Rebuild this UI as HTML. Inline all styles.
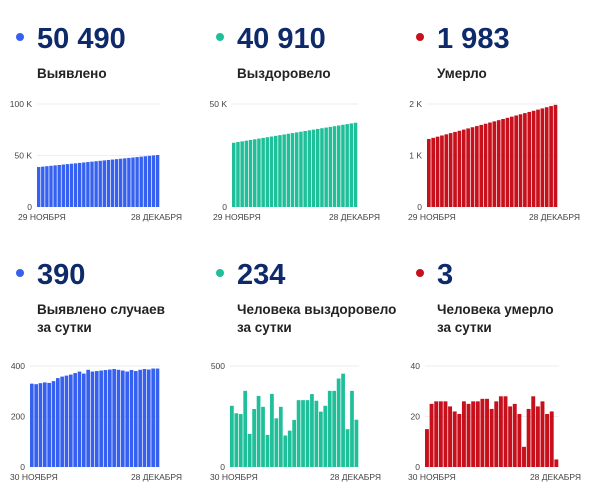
<!DOCTYPE html>
<html><head><meta charset="utf-8"><style>
body{margin:0;background:#fff;width:600px;height:503px;overflow:hidden}
svg{display:block}
</style></head><body>
<svg width="600" height="503" xmlns="http://www.w3.org/2000/svg" font-family="Liberation Sans, sans-serif">
<g id="g"></g>
</svg>
<script>
const NS="http://www.w3.org/2000/svg",g=document.getElementById('g');
function el(t,a,txt){const e=document.createElementNS(NS,t);for(const k in a)e.setAttribute(k,a[k]);if(txt!=null)e.textContent=txt;g.appendChild(e);return e;}
function header(x,y,col,num,lines){
 el('circle',{cx:x,cy:y,r:4,fill:col});
 el('text',{x:x+17,y:y+11,'font-size':29,'font-weight':'bold',fill:'#0e2a6b'},num);
 lines.forEach((l,i)=>el('text',{x:x+17,y:y+41+i*18,'font-size':13.5,'font-weight':'bold',fill:'#222'},l));
}
function chart(x0,x1,base,top,max,ticks,vals,col,l1,l2,lx){
 const h=base-top;
 ticks.forEach(t=>{const y=base-t[0]/max*h;
  if(t[0]>0)el('line',{x1:x0,x2:x1,y1:y,y2:y,stroke:'#eee','stroke-width':1});
  el('text',{x:x0-5,y:y+3,'font-size':8.5,fill:'#444','text-anchor':'end'},t[1]);});
 const w=(x1-x0)/vals.length;
 vals.forEach((v,i)=>{const bh=v/max*h;el('rect',{x:x0+i*w,y:base-bh,width:w-0.7,height:bh,fill:col});});
 el('text',{x:lx,y:base+13,'font-size':8.5,fill:'#444'},l1);
 el('text',{x:x1+22,y:base+13,'font-size':8.5,fill:'#444','text-anchor':'end'},l2);
}
function lin(a,b,n){return Array.from({length:n},(_,i)=>a+(b-a)*i/(n-1));}
header(20,37,'#3560f0','50 490',['Выявлено']);
header(220,37,'#1fbf9a','40 910',['Выздоровело']);
header(420,37,'#c8101c','1 983',['Умерло']);
header(20,273,'#3560f0','390',['Выявлено случаев','за сутки']);
header(220,273,'#1fbf9a','234',['Человека выздоровело','за сутки']);
header(420,273,'#c8101c','3',['Человека умерло','за сутки']);
chart(37,160,207,104,100000,[[0,'0'],[50000,'50 K'],[100000,'100 K']],lin(38800,50490,30),'#3560f0','29 НОЯБРЯ','28 ДЕКАБРЯ',18);
chart(232,358,207,104,50000,[[0,'0'],[50000,'50 K']],lin(31200,40910,30),'#1fbf9a','29 НОЯБРЯ','28 ДЕКАБРЯ',213);
chart(427,558,207,104,2000,[[0,'0'],[1000,'1 K'],[2000,'2 K']],lin(1320,1983,30),'#c8101c','29 НОЯБРЯ','28 ДЕКАБРЯ',408);
chart(30,160,467,366,400,[[0,'0'],[200,'200'],[400,'400']],[330,328,332,335,333,340,352,358,362,366,372,378,370,385,378,380,382,384,386,388,385,382,378,384,380,385,388,386,390,390],'#3560f0','30 НОЯБРЯ','28 ДЕКАБРЯ',10);
chart(230,359,467,366,500,[[0,'0'],[500,'500']],[303,266,262,377,164,287,352,298,159,362,241,298,156,180,233,331,331,331,361,328,274,303,377,377,438,462,187,377,234],'#1fbf9a','30 НОЯБРЯ','28 ДЕКАБРЯ',210);
chart(425,559,467,366,40,[[0,'0'],[20,'20'],[40,'40']],[15,25,26,26,26,24,22,21,26,25,26,26,27,27,23,26,28,28,24,25,21,8,23,28,24,26,21,22,3],'#c8101c','30 НОЯБРЯ','28 ДЕКАБРЯ',408);
</script>
</body></html>
